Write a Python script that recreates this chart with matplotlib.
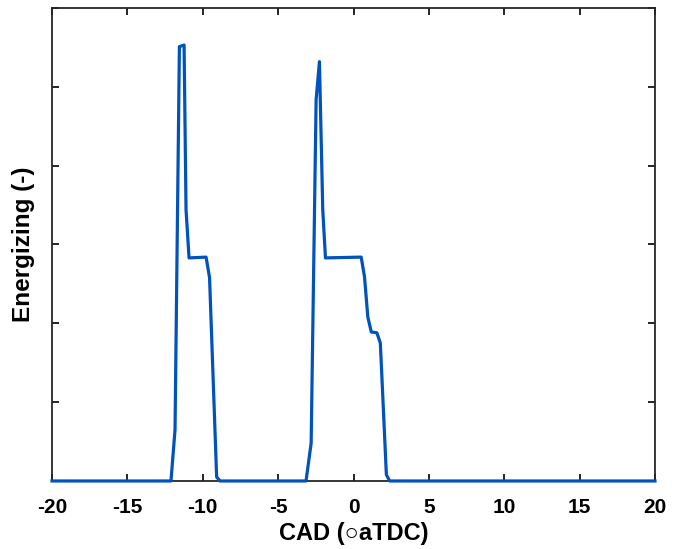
import matplotlib
matplotlib.use('Agg')
import matplotlib.pyplot as plt

# crank angle (deg aTDC) and energizing signal (arbitrary units)
cad = [-20.0, -16.0, -12.11, -11.84, -11.55, -11.24, -11.11, -10.91,
       -9.78, -9.55, -9.08, -8.85, -6.0, -3.15, -2.81, -2.48, -2.26,
       -2.04, -1.86, 0.51, 0.73, 0.95, 1.18, 1.55, 1.78, 2.18, 2.40,
       8.0, 14.0, 20.0]
energizing = [0.0, 0.0, 0.0, 0.65, 5.51, 5.53, 3.44, 2.83,
              2.84, 2.58, 0.05, 0.0, 0.0, 0.0, 0.48, 4.84, 5.32,
              3.44, 2.83, 2.84, 2.59, 2.08, 1.89, 1.88, 1.75, 0.08, 0.0,
              0.0, 0.0, 0.0]

xticks = [-20, -15, -10, -5, 0, 5, 10, 15, 20]
yticks = [0, 1, 2, 3, 4, 5, 6]

plt.rcParams['font.family'] = ['Liberation Sans', 'DejaVu Sans']

fig = plt.figure(figsize=(6.81, 5.49), dpi=100)
ax = fig.add_axes([0.0764, 0.1239, 0.8854, 0.8615])

ax.plot(cad, energizing, color='#0052BD', linewidth=2.3, clip_on=False, zorder=3,
        solid_joinstyle='round')

ax.set_xlim(-20, 20)
ax.set_ylim(0, 6)
ax.set_xticks(xticks)
ax.set_xticklabels([str(t) for t in xticks], fontsize=15, fontweight='bold')
ax.set_yticks(yticks)
ax.set_yticklabels([])
ax.tick_params(direction='in', length=5, width=1.2, top=True, right=True, pad=12)
for s in ax.spines.values():
    s.set_linewidth(1.3)
    s.set_color('#262626')

ax.set_xlabel('CAD (○aTDC)', fontsize=17, fontweight='bold', labelpad=4)
ax.set_ylabel('Energizing (-)', fontsize=17.5, fontweight='bold', va='center')
ax.yaxis.set_label_coords(-0.047, 0.5)

fig.savefig('out.png', dpi=100)
